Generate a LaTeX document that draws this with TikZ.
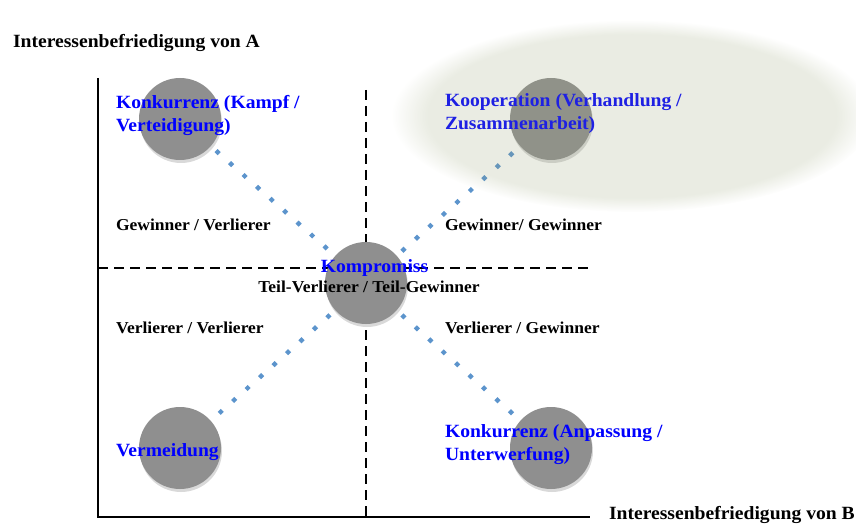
\documentclass[tikz,border=0pt]{standalone}
\usepackage{fontspec}
\setmainfont[FakeStretch=1.05]{Liberation Serif}
\usetikzlibrary{shapes.geometric,shadows,fadings,decorations.markings}

\newlength{\du}
\setlength{\du}{0.75pt}

\definecolor{labelblue}{rgb}{0.000000, 0.000000, 1.000000}
\definecolor{circlegray}{rgb}{0.560000, 0.560000, 0.560000}
\definecolor{dotblue}{rgb}{0.360000, 0.580000, 0.800000}
\definecolor{glowcolor}{rgb}{0.590000, 0.630000, 0.450000}

\tikzset{
  ball/.style={circle,fill=circlegray,minimum size=82\du,inner sep=0pt,
    drop shadow={shadow xshift=1\du,shadow yshift=-3\du,opacity=0.3}},
  bluelabel/.style={text=labelblue,font=\bfseries\fontsize{14}{17.25}\selectfont,
    align=left,anchor=west,inner sep=0pt},
  blacklabel/.style={text=black,font=\bfseries\fontsize{12.5}{17.25}\selectfont,
    anchor=west,inner sep=0pt},
  axistitle/.style={blacklabel,font=\bfseries\fontsize{14}{17.25}\selectfont},
  dotlink/.style={decoration={markings,
    mark=between positions 0.05 and 1 step 18\du with
      {\node[diamond,fill=dotblue,inner sep=0pt,minimum size=7\du]{};}},
    postaction={decorate}},
}

\begin{document}
\begin{tikzpicture}
\pgftransformxscale{1.000000}
\pgftransformyscale{-1.000000}
\useasboundingbox (0\du,0\du) rectangle (856\du,524\du);
% axes
\pgfsetlinewidth{2.000000\du}
\draw (98.000000\du,78.000000\du)--(98.000000\du,517.000000\du)--(590.000000\du,517.000000\du);
% quadrant lines
\draw[dash pattern=on 10\du off 6\du] (366.000000\du,90.000000\du)--(366.000000\du,520.000000\du);
\draw[dash pattern=on 10\du off 6\du] (98.000000\du,268.000000\du)--(590.000000\du,268.000000\du);
% circles
\node[ball] (kampf) at (180.000000\du,119.000000\du){};
\node[ball] (kompromiss) at (366.000000\du,283.000000\du){};
\node[ball] (kooperation) at (551.000000\du,119.000000\du){};
\node[ball] (vermeidung) at (180.000000\du,448.000000\du){};
\node[ball] (anpassung) at (551.000000\du,448.000000\du){};
% dotted links
\path[dotlink] (kampf)--(kompromiss);
\path[dotlink] (kompromiss)--(kooperation);
\path[dotlink] (kompromiss)--(vermeidung);
\path[dotlink] (kompromiss)--(anpassung);
% axis titles
\node[axistitle] (achseA) at (12.000000\du,43.000000\du){Interessenbefriedigung von A};
\node[axistitle] (achseB) at (608.000000\du,515.000000\du){Interessenbefriedigung von B};
% strategy labels
\node[bluelabel] (kampftext) at (115.000000\du,115.500000\du){Konkurrenz (Kampf /\\Verteidigung)};
\node[bluelabel] (kooptext) at (444.000000\du,114.000000\du){Kooperation (Verhandlung /\\Zusammenarbeit)};
\node[bluelabel,anchor=center] (kompromisstext) at (374.500000\du,268.000000\du){Kompromiss};
\node[bluelabel] (vermeidungtext) at (115.000000\du,452.000000\du){Vermeidung};
\node[bluelabel] (anpassungtext) at (444.000000\du,444.500000\du){Konkurrenz (Anpassung /\\Unterwerfung)};
% outcome labels
\node[blacklabel] (gv) at (115.000000\du,225.000000\du){Gewinner / Verlierer};
\node[blacklabel] (gg) at (444.000000\du,225.000000\du){Gewinner/ Gewinner};
\node[blacklabel] (vv) at (115.000000\du,328.000000\du){Verlierer / Verlierer};
\node[blacklabel] (vg) at (444.000000\du,328.000000\du){Verlierer / Gewinner};
\node[blacklabel,anchor=center] (teil) at (369.000000\du,287.000000\du){Teil-Verlierer / Teil-Gewinner};
% glow over cooperation
\fill[glowcolor,fill opacity=0.2,path fading=circle with fuzzy edge 15 percent] (632.000000\du,116.000000\du) ellipse [x radius=240\du,y radius=96\du];
\end{tikzpicture}
\end{document}
